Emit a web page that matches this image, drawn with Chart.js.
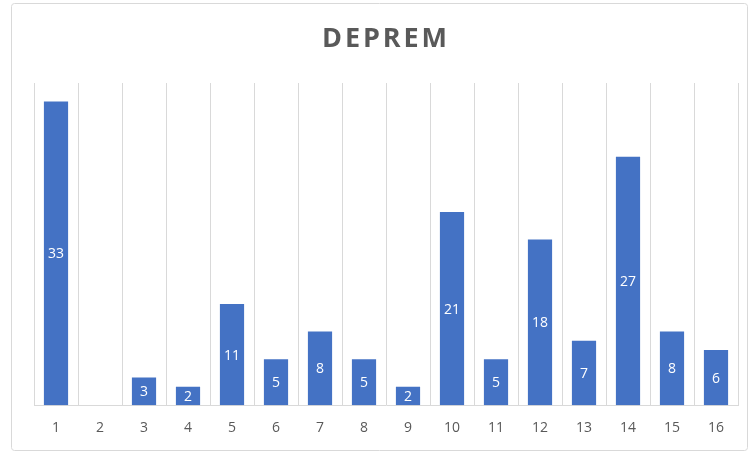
<!DOCTYPE html>
<html>
<head>
<meta charset="utf-8">
<script src="https://cdn.jsdelivr.net/npm/chart.js@4/dist/chart.umd.min.js"></script>
<style>
  html, body { margin: 0; padding: 0; background: #ffffff; }
  #wrap { width: 752px; height: 454px; position: relative; }
</style>
</head>
<body>
<div id="wrap"><canvas id="c" width="752" height="454"></canvas></div>
<script>
const chartTitle = 'DEPREM';
const categories = ['1','2','3','4','5','6','7','8','9','10','11','12','13','14','15','16'];
const values = [33, 0, 3, 2, 11, 5, 8, 5, 2, 21, 5, 18, 7, 27, 8, 6];

const frameAndTitle = {
  id: 'frameAndTitle',
  beforeDraw(chart) {
    const ctx = chart.ctx;
    ctx.save();
    ctx.strokeStyle = '#d9d9d9';
    ctx.lineWidth = 1;
    ctx.beginPath();
    ctx.roundRect(11.5, 3.5, 736, 447, 3);
    ctx.stroke();
    ctx.restore();
  },
  afterDraw(chart) {
    const ctx = chart.ctx;
    ctx.save();
    ctx.font = 'bold 27px "Open Sans"';
    ctx.fillStyle = '#595959';
    ctx.textBaseline = 'alphabetic';
    ctx.textAlign = 'left';
    const plain = ctx.measureText(chartTitle).width;
    const target = 125;
    const sp = Math.max(0, (target - plain) / (chartTitle.length - 1));
    let x = 322;
    for (const ch of chartTitle) {
      ctx.fillText(ch, x, 47);
      x += ctx.measureText(ch).width + sp;
    }
    ctx.restore();
  }
};

const barLabels = {
  id: 'barLabels',
  afterDatasetsDraw(chart) {
    const ctx = chart.ctx;
    const meta = chart.getDatasetMeta(0);
    ctx.save();
    ctx.font = '14px "Open Sans"';
    ctx.fillStyle = '#ffffff';
    ctx.textAlign = 'center';
    ctx.textBaseline = 'middle';
    meta.data.forEach((bar, i) => {
      const v = chart.data.datasets[0].data[i];
      if (!v) return;
      const y = (bar.y + bar.base) / 2;
      ctx.fillText(String(v), bar.x, y + 1);
    });
    ctx.restore();
  }
};

new Chart(document.getElementById('c'), {
  type: 'bar',
  data: {
    labels: categories,
    datasets: [{
      data: values,
      backgroundColor: '#4472c4',
      borderWidth: 0,
      barPercentage: 0.55,
      categoryPercentage: 1.0
    }]
  },
  options: {
    responsive: false,
    animation: false,
    devicePixelRatio: 1,
    layout: { padding: { left: 34, right: 14, top: 83, bottom: 4 } },
    plugins: {
      legend: { display: false },
      title: { display: false },
      tooltip: { enabled: false }
    },
    scales: {
      x: {
        grid: { display: true, color: '#d9d9d9', drawTicks: false, offset: true },
        border: { display: true, color: '#d9d9d9' },
        ticks: { color: '#595959', font: { family: 'Open Sans', size: 14 }, padding: 14 }
      },
      y: {
        display: false,
        min: 0,
        max: 35
      }
    }
  },
  plugins: [frameAndTitle, barLabels]
});
</script>
</body>
</html>
